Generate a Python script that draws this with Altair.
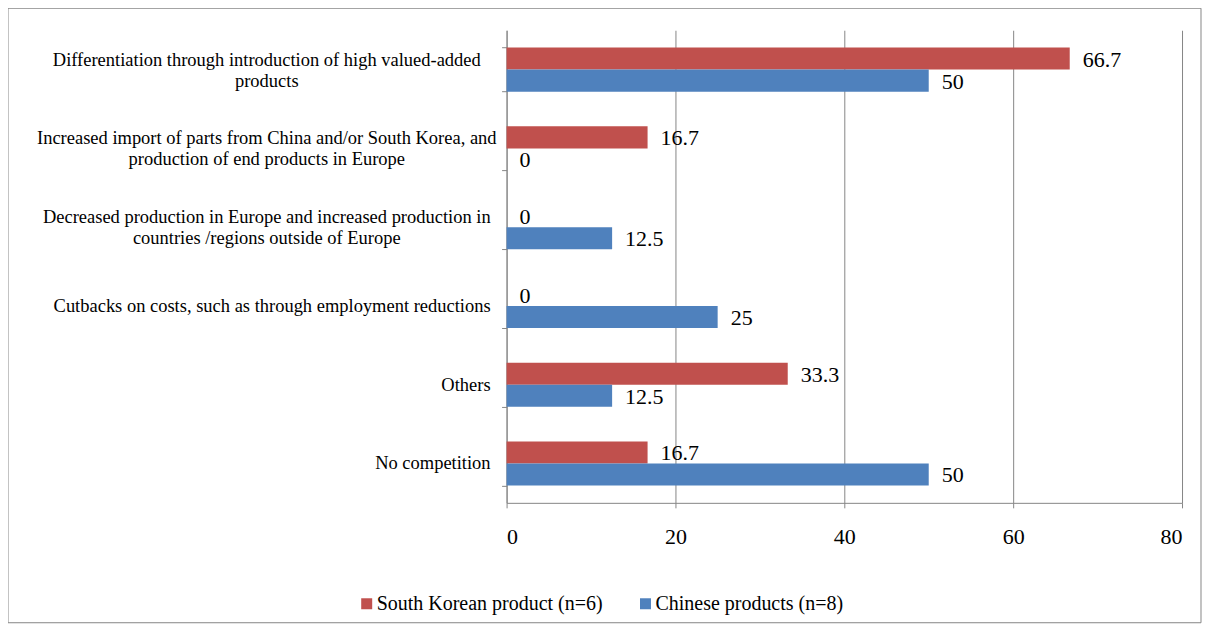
import altair as alt
import pandas as pd

categories = [
    "Differentiation through introduction of high valued-added\nproducts",
    "Increased import of parts from China and/or South Korea, and\nproduction of end products in Europe",
    "Decreased production in Europe and increased production in\ncountries /regions outside of Europe",
    "Cutbacks on costs, such as through employment reductions",
    "Others",
    "No competition",
]
series = ["South Korean product (n=6)", "Chinese products (n=8)"]
south_korea = [66.7, 16.7, 0, 0, 33.3, 16.7]
china = [50, 0, 12.5, 25, 12.5, 50]
colors = ["#C0504D", "#4F81BD"]
x_ticks = [0, 20, 40, 60, 80]

rows = []
for c, a, b in zip(categories, south_korea, china):
    rows.append({"category": c, "series": series[0], "value": a})
    rows.append({"category": c, "series": series[1], "value": b})
df = pd.DataFrame(rows)
cat_df = pd.DataFrame({"category": categories})

FONT = "Liberation Serif"
GRAY = "#868686"

y_enc = alt.Y(
    "category:N",
    sort=categories,
    scale=alt.Scale(paddingInner=0.44, paddingOuter=0.22),
    axis=alt.Axis(
        title=None, labels=False, ticks=True, tickBand="extent", tickSize=5,
        tickColor=GRAY, domainColor=GRAY, grid=False,
    ),
)
x_enc = alt.X(
    "value:Q",
    scale=alt.Scale(domain=[0, 80], nice=False),
    axis=alt.Axis(
        title=None, values=x_ticks, grid=True, gridColor=GRAY, tickColor=GRAY,
        domainColor=GRAY, tickSize=5, labelFont=FONT, labelFontSize=22,
        labelPadding=19, labelColor="black",
    ),
)
yoff = alt.YOffset("series:N", sort=series)

bars = alt.Chart(df).mark_bar().encode(
    x=x_enc,
    y=y_enc,
    yOffset=yoff,
    color=alt.Color(
        "series:N",
        sort=series,
        scale=alt.Scale(domain=series, range=colors),
        legend=alt.Legend(
            title=None, orient="none", legendX=-150, legendY=564,
            direction="horizontal", symbolType="square", symbolSize=121,
            symbolStrokeWidth=0, labelFont=FONT, labelFontSize=20,
            labelColor="black", columnPadding=32, labelOffset=0,
            labelLimit=0,
        ),
    ),
)

values = alt.Chart(df).mark_text(
    align="left", baseline="middle", dx=13, dy=1, font=FONT, fontSize=22, color="black"
).encode(
    x="value:Q",
    y=alt.Y("category:N", sort=categories),
    yOffset=yoff,
    text=alt.Text("value:Q"),
)

two_line = alt.Chart(cat_df).transform_filter(
    "indexof(datum.category, '\\n') >= 0"
).mark_text(
    align="center", baseline="middle", lineBreak="\n", lineHeight=21, dy=-10,
    font=FONT, fontSize=18.5, color="black",
).encode(
    x=alt.value(-240),
    y=alt.Y("category:N", sort=categories),
    text="category:N",
)

one_line = alt.Chart(cat_df).transform_filter(
    "indexof(datum.category, '\\n') < 0"
).mark_text(
    align="right", baseline="middle", font=FONT, fontSize=18.5, color="black",
).encode(
    x=alt.value(-16),
    y=alt.Y("category:N", sort=categories),
    text="category:N",
)

border = alt.Chart(pd.DataFrame({"b": [0]})).mark_rect(
    fill="transparent", stroke=GRAY, strokeWidth=1
).encode(
    x=alt.value(-499), x2=alt.value(695), y=alt.value(-22), y2=alt.value(593)
)

chart = alt.layer(border, bars, values, two_line, one_line).properties(
    width=676,
    height=473,
    autosize=alt.AutoSizeParams(type="none"),
    padding={"left": 499, "top": 22, "right": 20, "bottom": 121},
).configure_view(stroke=None)

chart.save("out.html", embed_options={"renderer": "svg", "actions": False})
